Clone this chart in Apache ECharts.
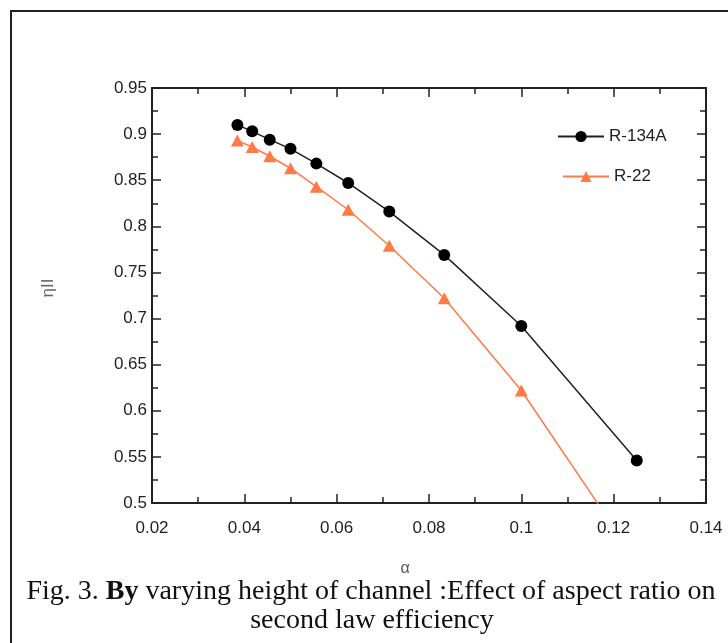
<!DOCTYPE html>
<html>
<head>
<meta charset="utf-8">
<script src="https://cdn.jsdelivr.net/npm/echarts@6/dist/echarts.min.js"></script>
<style>
html,body{margin:0;padding:0;background:#fff;}
#chart{width:728px;height:643px;}
</style>
</head>
<body>
<div id="chart"></div>
<script>
// Aspect ratio alpha (x values)
var alpha = [0.0385, 0.0417, 0.0455, 0.05, 0.0556, 0.0625, 0.0714, 0.0833, 0.1, 0.125];
// Second law efficiency
var r134a = [0.910, 0.903, 0.894, 0.884, 0.868, 0.847, 0.816, 0.769, 0.692, 0.546];
var r22 = [0.893, 0.886, 0.876, 0.863, 0.843, 0.818, 0.779, 0.722, 0.622, 0.437];
var seriesNames = ['R-134A', 'R-22'];
var xTicks = ['0.02', '0.04', '0.06', '0.08', '0.1', '0.12', '0.14'];
var yTicks = ['0.5', '0.55', '0.6', '0.65', '0.7', '0.75', '0.8', '0.85', '0.9', '0.95'];
var xName = 'α';
var yName = 'ηII';
var captionLine1 = ['Fig. 3. ', 'By', ' varying height of channel :Effect of aspect ratio on'];
var captionLine2 = 'second law efficiency';

function pairs(xs, ys) { return xs.map(function (x, i) { return [x, ys[i]]; }); }

var chart = echarts.init(document.getElementById('chart'), null, {renderer: 'canvas'});
var axisFont = {fontFamily: 'Liberation Sans', fontSize: 17, color: '#222'};
var lineStyleAxis = {color: '#222', width: 2};
var tickStyle = {show: true, inside: true, length: 9, lineStyle: {color: '#222', width: 1.5}};
var minorStyle = {show: true, splitNumber: 2, length: 6, lineStyle: {color: '#222', width: 1.5}};

var option = {
  animation: false,
  backgroundColor: '#fff',
  grid: {left: 152, right: 22, top: 88, bottom: 140, containLabel: false},
  legend: [
    {data: [seriesNames[0]], left: 557, top: 128, padding: 0, itemWidth: 46, itemHeight: 14,
     textStyle: axisFont},
    {data: [seriesNames[1]], left: 562, top: 168, padding: 0, itemWidth: 46, itemHeight: 14,
     textStyle: axisFont}
  ],
  xAxis: [
    {type: 'value', min: 0.02, max: 0.14, interval: 0.02, position: 'bottom',
     axisLine: {show: true, lineStyle: lineStyleAxis},
     axisTick: tickStyle, minorTick: minorStyle, splitLine: {show: false},
     axisLabel: Object.assign({margin: 17, formatter: function (v) {
       var i = Math.round((v - 0.02) / 0.02); return xTicks[i] || ''; }}, axisFont)},
    {type: 'value', min: 0.02, max: 0.14, interval: 0.02, position: 'top',
     axisLine: {show: true, lineStyle: lineStyleAxis},
     axisTick: tickStyle, minorTick: minorStyle, splitLine: {show: false},
     axisLabel: {show: false}}
  ],
  yAxis: [
    {type: 'value', min: 0.5, max: 0.95, interval: 0.05, position: 'left',
     axisLine: {show: true, lineStyle: lineStyleAxis},
     axisTick: tickStyle, minorTick: minorStyle, splitLine: {show: false},
     axisLabel: Object.assign({margin: 5, formatter: function (v) {
       var i = Math.round((v - 0.5) / 0.05); return yTicks[i] || ''; }}, axisFont)},
    {type: 'value', min: 0.5, max: 0.95, interval: 0.05, position: 'right',
     axisLine: {show: true, lineStyle: lineStyleAxis},
     axisTick: tickStyle, minorTick: minorStyle, splitLine: {show: false},
     axisLabel: {show: false}}
  ],
  series: [
    {name: seriesNames[0], type: 'line', data: pairs(alpha, r134a), xAxisIndex: 0, yAxisIndex: 0,
     symbol: 'circle', symbolSize: 12, clip: true,
     lineStyle: {color: '#222', width: 1.5}, itemStyle: {color: '#000'}},
    {name: seriesNames[1], type: 'line', data: pairs(alpha, r22), xAxisIndex: 0, yAxisIndex: 0,
     symbol: 'triangle', symbolSize: [13, 12], clip: true,
     lineStyle: {color: '#FF7A45', width: 1.5}, itemStyle: {color: '#FF7A45'}}
  ],
  graphic: [
    {type: 'rect', shape: {x: 11, y: 11, width: 900, height: 800}, silent: true,
     style: {fill: 'none', stroke: '#222', lineWidth: 2}},
    {type: 'text', x: 405, y: 569, silent: true,
     style: {text: xName, fontFamily: 'Liberation Sans', fontSize: 16, fill: '#555',
       align: 'center', verticalAlign: 'middle'}},
    {type: 'text', x: 48, y: 288, rotation: Math.PI / 2, silent: true,
     style: {text: yName, fontFamily: 'Liberation Sans', fontSize: 17, fill: '#666',
       align: 'center', verticalAlign: 'middle'}},
    {type: 'text', x: 371, y: 592, silent: true,
     style: {text: '{n|' + captionLine1[0] + '}{b|' + captionLine1[1] + '}{n|' + captionLine1[2] + '}',
       align: 'center', verticalAlign: 'middle',
       rich: {n: {fontFamily: 'Liberation Serif', fontSize: 28, fill: '#111'},
              b: {fontFamily: 'Liberation Serif', fontSize: 28, fontWeight: 'bold', fill: '#111'}}}},
    {type: 'text', x: 372, y: 621, silent: true,
     style: {text: captionLine2, fontFamily: 'Liberation Serif', fontSize: 28, fill: '#111',
       align: 'center', verticalAlign: 'middle'}}
  ]
};
chart.setOption(option);
</script>
</body>
</html>
